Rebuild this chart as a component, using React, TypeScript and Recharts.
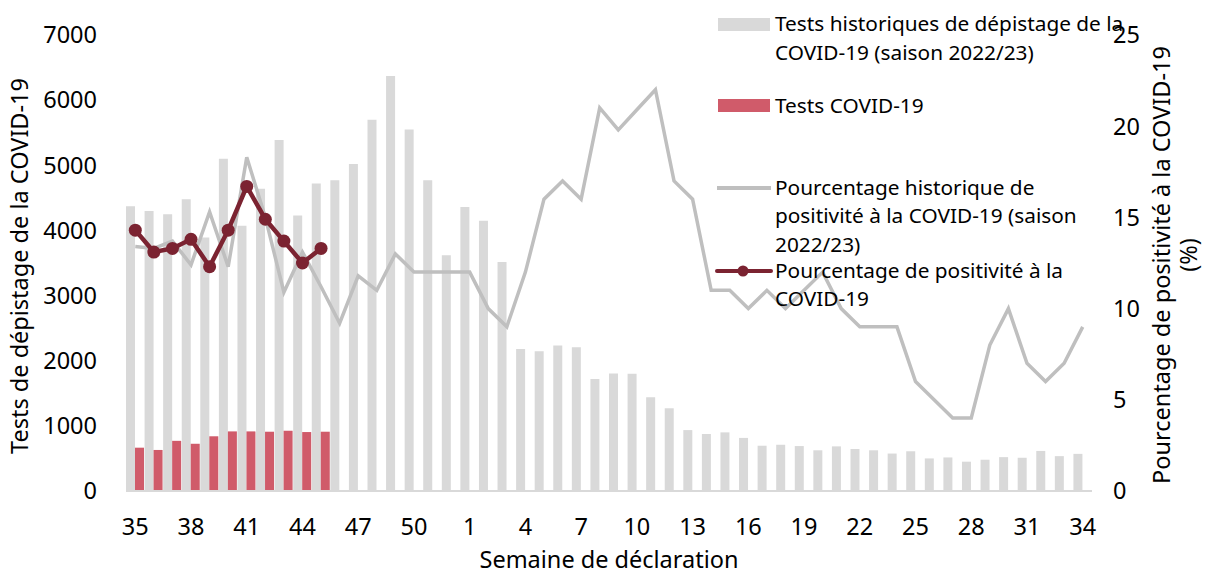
import { ComposedChart, Bar, Line, XAxis, YAxis, Legend, Label } from "recharts";

const weeks = [
  "35", "36", "37", "38", "39", "40", "41", "42", "43", "44", "45", "46", "47", "48", "49", "50", "51", "52",
  "1", "2", "3", "4", "5", "6", "7", "8", "9", "10", "11", "12", "13", "14", "15", "16", "17",
  "18", "19", "20", "21", "22", "23", "24", "25", "26", "27", "28", "29", "30", "31", "32", "33", "34",
];

const historicalTests = [
  4370, 4300, 4250, 4480, 3890, 5100, 4070, 4640, 5390, 4230, 4720, 4770, 5020, 5700, 6370, 5550, 4770, 3620,
  4360, 4150, 3515, 2180, 2145, 2235, 2205, 1720, 1805, 1800, 1440, 1270, 935, 875, 900, 815, 695,
  710, 690, 625, 685, 645, 625, 575, 610, 500, 515, 450, 480, 520, 510, 615, 535, 570,
];

const currentTests = [665, 630, 770, 725, 840, 915, 915, 910, 925, 905, 910];

const historicalPct = [
  13.4, 13.3, 13.7, 12.4, 15.3, 12.3, 18.3, 15.0, 10.9, 13.1, 11.2, 9.2, 11.8, 11.0, 13.0, 12, 12, 12,
  12, 10, 9, 12, 16, 17, 16, 21, 19.8, 20.9, 22, 17, 16, 11, 11, 10, 11,
  10, 11, 12, 10, 9, 9, 9, 6, 5, 4, 4, 8, 10, 7, 6, 7, 9,
];

const currentPct = [14.3, 13.1, 13.3, 13.8, 12.3, 14.3, 16.7, 14.9, 13.7, 12.5, 13.3];

const leftTicks = [0, 1000, 2000, 3000, 4000, 5000, 6000, 7000];
const rightTicks = [0, 5, 10, 15, 20, 25];

const legendLabels = [
  ["Tests historiques de dépistage de la", "COVID-19 (saison 2022/23)"],
  ["Tests COVID-19"],
  ["Pourcentage historique de", "positivité à la COVID-19 (saison", "2022/23)"],
  ["Pourcentage de positivité à la", "COVID-19"],
];

const data = weeks.map((week, i) => ({
  week,
  historicalTests: historicalTests[i],
  currentTests: i < currentTests.length ? currentTests[i] : null,
  historicalPct: historicalPct[i],
  currentPct: i < currentPct.length ? currentPct[i] : null,
}));

const FONT = "'Noto Sans', 'Open Sans', sans-serif";
const GREY_BAR = "#d9d9d9";
const GREY_LINE = "#bfbfbf";
const RED_BAR = "#d05b6a";
const DARK_RED = "#7b2331";
const AXIS_FS = 23.5;

const ChartLegend = () => {
  // baselines of each text line, in chart pixels
  const baselines = [[31, 60], [113], [195, 223, 252], [278, 306]];
  return (
    <svg width={508} height={320} style={{ overflow: "visible" }}>
      <rect x={18} y={18} width={52} height={13} fill={GREY_BAR} />
      <rect x={18} y={99} width={52} height={13} fill={RED_BAR} />
      <line x1={17} x2={71} y1={188} y2={188} stroke={GREY_LINE} strokeWidth={4} />
      <line x1={17} x2={71} y1={271} y2={271} stroke={DARK_RED} strokeWidth={4} strokeLinecap="round" />
      <circle cx={43} cy={271} r={5.5} fill={DARK_RED} />
      {legendLabels.map((lines, i) =>
        lines.map((t, j) => (
          <text key={`${i}-${j}`} x={75} y={baselines[i][j]} fontSize={20.8} fontFamily={FONT} fill="#000">
            {t}
          </text>
        ))
      )}
    </svg>
  );
};

export default function App() {
  return (
    <div style={{ position: "absolute", left: 0, top: 0 }}>
      <ComposedChart
        width={1208}
        height={575}
        data={data}
        margin={{ top: 35, right: 0, bottom: 0, left: 0 }}
        barCategoryGap={0}
        barGap={0}
      >
        <XAxis
          dataKey="week"
          interval={2}
          height={84}
          tickLine={false}
          tickSize={0}
          tickMargin={27}
          axisLine={{ stroke: GREY_BAR, strokeWidth: 2 }}
          tick={{ fontSize: AXIS_FS, fontFamily: FONT, fill: "#000" }}
        >
          <Label
            content={({ viewBox }: any) => (
              <text
                x={viewBox.x + viewBox.width / 2}
                y={568}
                textAnchor="middle"
                fontSize={AXIS_FS}
                fontFamily={FONT}
                fill="#000"
              >
                Semaine de déclaration
              </text>
            )}
          />
        </XAxis>
        <YAxis
          yAxisId="left"
          width={126}
          domain={[0, 7000]}
          ticks={leftTicks}
          axisLine={false}
          tickLine={false}
          tickSize={0}
          tickMargin={29}
          tick={{ fontSize: AXIS_FS, fontFamily: FONT, fill: "#000" }}
        >
          <Label
            content={() => (
              <text
                transform="translate(28,266) rotate(-90)"
                textAnchor="middle"
                fontSize={AXIS_FS}
                fontFamily={FONT}
                fill="#000"
              >
                Tests de dépistage de la COVID-19
              </text>
            )}
          />
        </YAxis>
        <YAxis
          yAxisId="right"
          orientation="right"
          width={116}
          domain={[0, 25]}
          ticks={rightTicks}
          axisLine={false}
          tickLine={false}
          tickSize={0}
          tickMargin={21}
          tick={{ fontSize: AXIS_FS, fontFamily: FONT, fill: "#000", textAnchor: "start" }}
        >
          <Label
            content={() => (
              <g fontSize={AXIS_FS} fontFamily={FONT} fill="#000">
                <text transform="translate(1170,265) rotate(-90)" textAnchor="middle">
                  Pourcentage de positivité à la COVID-19
                </text>
                <text transform="translate(1197,255) rotate(-90)" textAnchor="middle">
                  (%)
                </text>
              </g>
            )}
          />
        </YAxis>
        <Legend
          layout="vertical"
          align="center"
          verticalAlign="middle"
          wrapperStyle={{ left: 700, top: 0, width: 508, height: 320 }}
          content={() => <ChartLegend />}
        />
        <Bar
          yAxisId="left"
          dataKey="historicalTests"
          fill={GREY_BAR}
          isAnimationActive={false}
        />
        <Bar
          yAxisId="left"
          dataKey="currentTests"
          fill={RED_BAR}
          isAnimationActive={false}
        />
        <Line
          yAxisId="right"
          dataKey="historicalPct"
          stroke={GREY_LINE}
          strokeWidth={3.5}
          dot={false}
          isAnimationActive={false}
        />
        <Line
          yAxisId="right"
          dataKey="currentPct"
          stroke={DARK_RED}
          strokeWidth={4.5}
          dot={{ r: 6.5, fill: DARK_RED, stroke: DARK_RED, strokeWidth: 0 }}
          isAnimationActive={false}
        />
      </ComposedChart>
    </div>
  );
}
